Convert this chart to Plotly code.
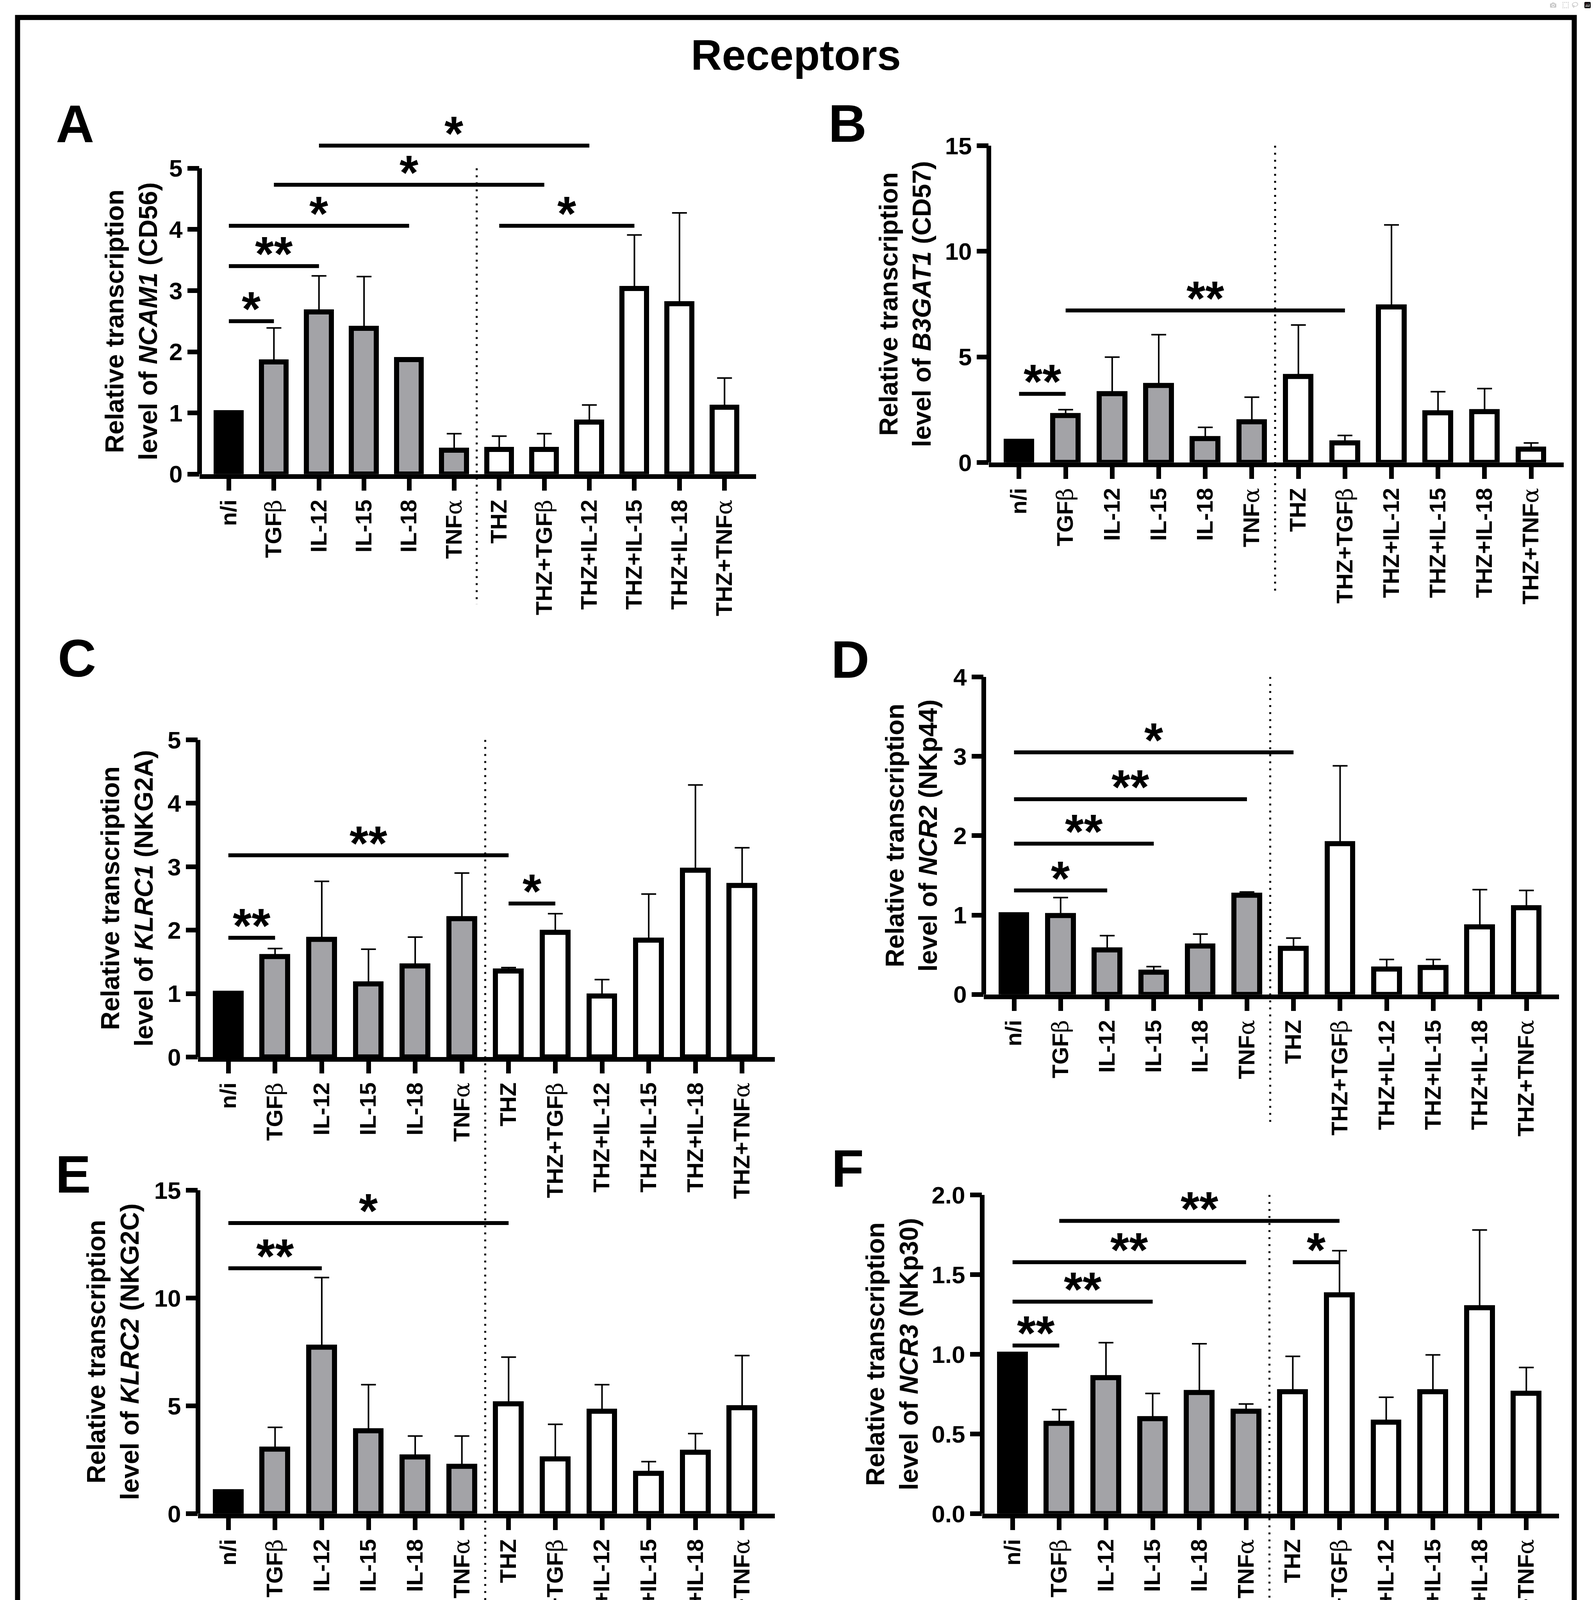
import plotly.graph_objects as go

W, H = 4079, 7513

# ---------------- data ----------------
categories = ['n/i', 'TGFβ', 'IL-12', 'IL-15', 'IL-18', 'TNFα',
              'THZ', 'THZ+TGFβ', 'THZ+IL-12', 'THZ+IL-15', 'THZ+IL-18', 'THZ+TNFα']

ncam1_mean = [1.0, 1.83, 2.65, 2.38, 1.87, 0.39, 0.40, 0.40, 0.85, 3.03, 2.78, 1.09]
ncam1_sd = [0, 0.56, 0.59, 0.85, 0.03, 0.27, 0.22, 0.26, 0.28, 0.88, 1.49, 0.48]
ncam1_sig = [(0, 1, 2.50, '*'), (0, 2, 3.40, '**'), (0, 4, 4.06, '*'),
             (1, 7, 4.73, '*'), (2, 8, 5.37, '*'), (6, 9, 4.06, '*')]

b3gat1_mean = [1.0, 2.22, 3.25, 3.63, 1.12, 1.91, 4.07, 0.92, 7.36, 2.35, 2.40, 0.62]
b3gat1_sd = [0, 0.28, 1.74, 2.42, 0.54, 1.18, 2.44, 0.36, 3.89, 1.00, 1.10, 0.30]
b3gat1_sig = [(0, 1, 3.25, '**'), (1, 7, 7.20, '**')]

klrc1_mean = [1.0, 1.58, 1.85, 1.15, 1.43, 2.18, 1.35, 1.96, 0.96, 1.84, 2.94, 2.70]
klrc1_sd = [0, 0.13, 0.92, 0.55, 0.46, 0.72, 0.06, 0.30, 0.26, 0.73, 1.35, 0.60]
klrc1_sig = [(0, 1, 1.88, '**'), (0, 6, 3.18, '**'), (6, 7, 2.42, '*')]

ncr2_mean = [1.0, 0.99, 0.56, 0.28, 0.61, 1.25, 0.58, 1.90, 0.32, 0.34, 0.85, 1.09]
ncr2_sd = [0, 0.23, 0.18, 0.07, 0.15, 0.04, 0.13, 0.98, 0.12, 0.10, 0.47, 0.22]
ncr2_sig = [(0, 2, 1.31, '*'), (0, 3, 1.90, '**'), (0, 5, 2.46, '**'), (0, 6, 3.05, '*')]

klrc2_mean = [1.0, 2.98, 7.72, 3.84, 2.62, 2.19, 5.09, 2.53, 4.74, 1.86, 2.84, 4.91]
klrc2_sd = [0, 1.02, 3.23, 2.14, 0.98, 1.41, 2.17, 1.61, 1.24, 0.55, 0.87, 2.42]
klrc2_sig = [(0, 2, 11.38, '**'), (0, 6, 13.48, '*')]

ncr3_mean = [1.0, 0.565, 0.852, 0.595, 0.758, 0.642, 0.763, 1.372, 0.572, 0.763, 1.29, 0.754]
ncr3_sd = [0, 0.088, 0.221, 0.159, 0.308, 0.046, 0.224, 0.278, 0.158, 0.233, 0.49, 0.163]
ncr3_sig = [(0, 1, 1.055, '**'), (0, 3, 1.33, '**'), (0, 5, 1.578, '**'),
            (6, 7, 1.578, '*'), (1, 7, 1.837, '**')]

ahr_mean = [1.0, 3.26, 2.68, 2.54, 2.38, 1.12, 1.95, 2.45, 2.97, 2.12, 2.04, 2.45]
ahr_sd = [0, 1.01, 0.92, 1.11, 1.32, 0.64, 0.29, 0.91, 0.66, 0.54, 1.25, 0.87]
ahr_sig = [(0, 6, 4.73, '***')]

eomes_mean = [1.0, 1.62, 0.89, 0.71, 1.24, 0.90, 2.59, 0.79, 1.36, 0.60, 4.11, 1.21]
eomes_sd = [0, 0.27, 0.38, 0.24, 0.50, 0.13, 1.01, 0.14, 0.71, 0.16, 2.18, 0.20]
eomes_sig = [(0, 1, 2.14, '**'), (0, 6, 4.90, '*'), (1, 7, 3.86, '**'), (6, 9, 4.38, '*')]

il10_mean = [1.0, 0.49, 5.22, 2.35, 1.87, 0.49, 0.51, 0.34, 2.70, 0.28, 0.82, 0.40]
il10_sd = [0, 0.40, 1.99, 1.15, 0.54, 0.29, 0.19, 0.17, 0.74, 0.14, 0.32, 0.26]
il10_sig = [(0, 2, 7.47, '**'), (0, 6, 8.57, '*'), (3, 9, 4.71, '*'), (6, 8, 3.63, '***')]

ccl5_mean = [1.0, 2.10, 0.75, 0.98, 1.61, 1.69, 1.14, 1.41, 0.60, 0.74, 0.58, 1.38]
ccl5_sd = [0, 0.52, 0.18, 0.13, 0.47, 0.31, 0.35, 0.50, 0.14, 0.19, 0.20, 0.28]
ccl5_sig = [(0, 5, 2.73, '**'), (4, 10, 2.22, '*')]

section_titles = ['Receptors', 'Transcription factors', 'Cytokines']

# ---------------- panel setup ----------------
panels = [
    dict(letter='A', gene='NCAM1', prot='CD56', mean=ncam1_mean, sd=ncam1_sd, sig=ncam1_sig,
         yticks=[0, 1, 2, 3, 4, 5], fmt='{:g}', geo=(511, 1936, 1216, 429, 336, 192, 315)),
    dict(letter='B', gene='B3GAT1', prot='CD57', mean=b3gat1_mean, sd=b3gat1_sd, sig=b3gat1_sig,
         yticks=[0, 5, 10, 15], fmt='{:g}', geo=(2532, 4004, 1186, 371, 2318, 2170, 314)),
    dict(letter='C', gene='KLRC1', prot='NKG2A', mean=klrc1_mean, sd=klrc1_sd, sig=klrc1_sig,
         yticks=[0, 1, 2, 3, 4, 5], fmt='{:g}', geo=(507, 1984, 2716, 1900, 325, 197, 1690)),
    dict(letter='D', gene='NCR2', prot='NKp44', mean=ncr2_mean, sd=ncr2_sd, sig=ncr2_sig,
         yticks=[0, 1, 2, 3, 4], fmt='{:g}', geo=(2519, 3992, 2555, 1738, 2334, 2177, 1693)),
    dict(letter='E', gene='KLRC2', prot='NKG2C', mean=klrc2_mean, sd=klrc2_sd, sig=klrc2_sig,
         yticks=[0, 5, 10, 15], fmt='{:g}', geo=(507, 1984, 3891, 3059, 289, 187, 3018)),
    dict(letter='F', gene='NCR3', prot='NKp30', mean=ncr3_mean, sd=ncr3_sd, sig=ncr3_sig,
         yticks=[0, 0.5, 1.0, 1.5, 2.0], fmt='{:.1f}', geo=(2515, 3992, 3891, 3071, 2284, 2170, 3003)),
    dict(letter='G', gene='AHR', prot='AHR', mean=ahr_mean, sd=ahr_sd, sig=ahr_sig,
         yticks=[0, 1, 2, 3, 4, 5], fmt='{:g}', geo=(492, 1893, 5496, 4707, 313, 195, 4637)),
    dict(letter='H', gene='EOMES', prot='Eomes', mean=eomes_mean, sd=eomes_sd, sig=eomes_sig,
         yticks=[0, 2, 4, 6, 8], fmt='{:g}', geo=(2532, 3985, 5499, 4695, 2346, 2170, 4637)),
    dict(letter='I', gene='IL10', prot='IL-10', mean=il10_mean, sd=il10_sd, sig=il10_sig,
         yticks=[0, 2, 4, 6, 8], fmt='{:g}', geo=(507, 1932, 7071, 6278, 315, 200, 6169)),
    dict(letter='J', gene='CCL5', prot='RANTES', mean=ccl5_mean, sd=ccl5_sd, sig=ccl5_sig,
         yticks=[0, 1, 2, 3], fmt='{:g}', geo=(2521, 3972, 7071, 6269, 2342, 2150, 6177)),
]

FONT = 'Liberation Sans, Arial, Helvetica, sans-serif'
GRAY = '#a3a3a7'
bar_colors = ['black'] + [GRAY] * 5 + ['white'] * 6


def greek(label):
    for g in ['β', 'α']:
        label = label.replace(g, "<span style='font-family:DejaVu Serif;font-weight:normal'>" + g + "</span>")
    return label


tick_labels = [greek(c) for c in categories]
xpos = list(range(len(categories)))
XR = [-0.65, 11.7]


def px(x):
    return x / W


def py(y):
    return 1 - y / H


fig = go.Figure()
annotations = []
shapes = []
layout = {}

for k, p in enumerate(panels, start=1):
    xL, xR, y0, yT, tx, lx, ly = p['geo']
    top = p['yticks'][-1]
    ppu = (y0 - yT) / top
    sig_max = max(s[2] for s in p['sig'])
    ext = max(top, sig_max) + 30 / ppu
    xa = 'x' if k == 1 else 'x%d' % k
    ya = 'y' if k == 1 else 'y%d' % k
    xname = 'xaxis' if k == 1 else 'xaxis%d' % k
    yname = 'yaxis' if k == 1 else 'yaxis%d' % k

    err = [v if v > 0 else None for v in p['sd']]
    fig.add_trace(go.Bar(
        x=xpos, y=p['mean'], width=0.55, xaxis=xa, yaxis=ya, showlegend=False,
        marker=dict(color=bar_colors, line=dict(color='black', width=13)),
        error_y=dict(type='data', symmetric=False, array=err, arrayminus=[0] * len(err),
                     color='black', thickness=4, width=19),
        hoverinfo='skip'))

    # significance brackets
    for (i, j, h, lab) in p['sig']:
        fig.add_trace(go.Scatter(x=[i, j], y=[h, h], mode='lines', xaxis=xa, yaxis=ya,
                                 line=dict(color='black', width=10), showlegend=False,
                                 hoverinfo='skip'))
        annotations.append(dict(x=(i + j) / 2, y=h, xref=xa, yref=ya, text=lab,
                                showarrow=False, yanchor='bottom', xanchor='center',
                                yshift=-40, font=dict(family=FONT, size=124, color='black',
                                                      weight='bold')))

    layout[xname] = dict(domain=[px(xL), px(xR)], range=XR, anchor=ya,
                         showline=True, linewidth=12, linecolor='black',
                         ticks='outside', ticklen=30, tickwidth=12, tickcolor='black',
                         tickvals=xpos, ticktext=tick_labels, tickangle=-90,
                         tickfont=dict(family=FONT, size=58, color='black', weight='bold'),
                         showgrid=False, zeroline=False, fixedrange=True)
    layout[yname] = dict(domain=[py(y0), py(y0 - ext * ppu)], range=[0, ext], anchor=xa,
                         showline=False, ticks='outside', ticklen=30, tickwidth=12,
                         tickcolor='black', tickvals=p['yticks'],
                         ticktext=[p['fmt'].format(v) for v in p['yticks']],
                         tickfont=dict(family=FONT, size=62, color='black', weight='bold'),
                         showgrid=False, zeroline=False, fixedrange=True)

    # y axis line (only up to top tick)
    shapes.append(dict(type='line', xref=xa + ' domain', yref=ya, x0=0, x1=0,
                       y0=-12 / ppu, y1=top, line=dict(color='black', width=12)))
    # dotted separator between the two treatment groups
    shapes.append(dict(type='line', xref=xa, yref='paper', x0=5.5, x1=5.5,
                       y0=py(yT), y1=py(y0 + 335),
                       line=dict(color='black', width=5, dash='5px,13px')))

    # axis title
    annotations.append(dict(x=px(tx), y=py((y0 + yT) / 2), xref='paper', yref='paper',
                            text='Relative transcription<br>level of <i>%s</i> (%s)' % (p['gene'], p['prot']),
                            textangle=-90, showarrow=False, xanchor='center', yanchor='middle',
                            font=dict(family=FONT, size=66, color='black', weight='bold')))
    # panel letter
    annotations.append(dict(x=px(lx), y=py(ly), xref='paper', yref='paper', text=p['letter'],
                            showarrow=False, xanchor='center', yanchor='middle',
                            font=dict(family=FONT, size=136, color='black', weight='bold')))

# section boxes and titles
boxes = [(45, 41, 4031, 4307, 137), (45, 4346, 4031, 5879, 4446), (45, 5928, 4031, 7461, 6020)]
for (bx0, by0, bx1, by1, ty), title in zip(boxes, section_titles):
    shapes.append(dict(type='rect', xref='paper', yref='paper', x0=px(bx0), x1=px(bx1),
                       y0=py(by1), y1=py(by0), line=dict(color='black', width=13),
                       fillcolor='rgba(0,0,0,0)'))
    annotations.append(dict(x=px(2038), y=py(ty), xref='paper', yref='paper', text=title,
                            showarrow=False, xanchor='center', yanchor='middle',
                            font=dict(family=FONT, size=110, color='black', weight='bold')))

fig.update_layout(width=W, height=H, margin=dict(l=0, r=0, t=0, b=0, pad=0),
                  paper_bgcolor='white', plot_bgcolor='rgba(0,0,0,0)',
                  showlegend=False, annotations=annotations, shapes=shapes,
                  bargap=0, **layout)

fig.write_html("out.html", post_script="document.body.style.margin='0';")
